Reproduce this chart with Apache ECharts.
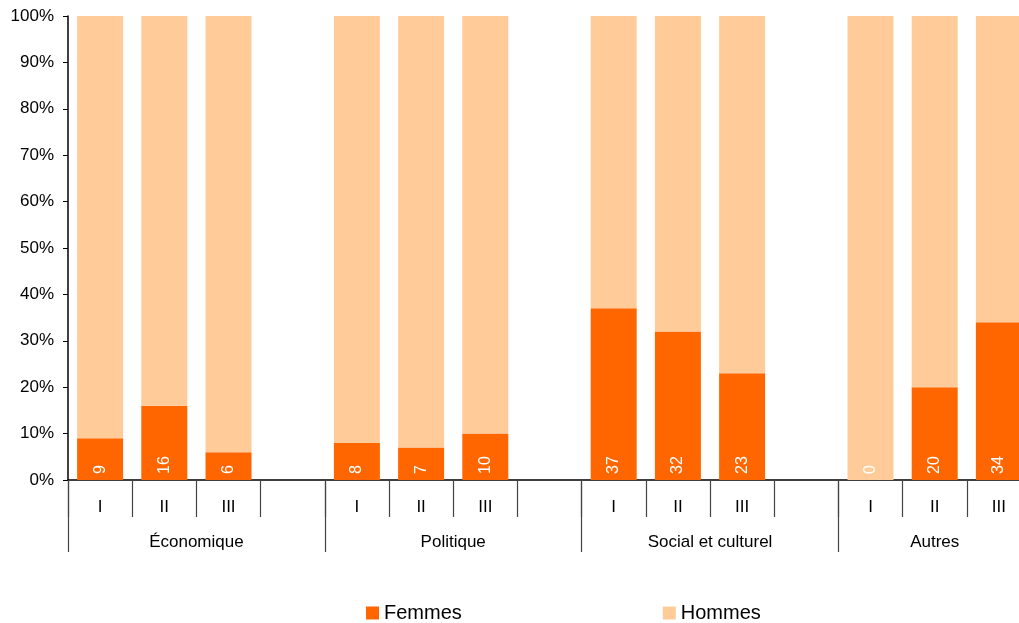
<!DOCTYPE html>
<html>
<head>
<meta charset="utf-8">
<script src="https://cdn.jsdelivr.net/npm/echarts@6/dist/echarts.min.js"></script>
<style>
  html, body { margin: 0; padding: 0; background: #fff; overflow: hidden; }
  #chart { width: 1019px; height: 623px; }
</style>
</head>
<body>
<div id="chart"></div>
<script>
// Groups and periods shown along the x axis
const groups = ['Économique', 'Politique', 'Social et culturel', 'Autres'];
const periods = ['I', 'II', 'III'];

// Share of women (%) per group and period; men make up the rest
const femmes = [9, 16, 6, 8, 7, 10, 37, 32, 23, 0, 20, 34];
const yTicks = [0, 10, 20, 30, 40, 50, 60, 70, 80, 90, 100];

// Build slot categories: three periods per group, an empty spacer between groups
const slots = [];
const femmesData = [];
const hommesData = [];
groups.forEach((g, gi) => {
  periods.forEach((p, pi) => {
    const v = femmes[gi * 3 + pi];
    slots.push(p);
    femmesData.push(v);
    hommesData.push(100 - v);
  });
  if (gi < groups.length - 1) {
    slots.push('');
    femmesData.push('-');
    hommesData.push('-');
  }
});

// Half-slot grid for the group row: boundaries every 8 steps, label at group centre
const halfSteps = slots.length * 2 + 1;
const groupRow = new Array(halfSteps).fill('');
const groupLabelIdx = {};
let start = 0;
groups.forEach((g, gi) => {
  const width = gi < groups.length - 1 ? 4 : 3;
  const centre = start * 2 + width;
  groupRow[centre] = g;
  groupLabelIdx[centre] = true;
  start += width;
});

const font = 'Liberation Sans, Arial, Helvetica, sans-serif';
const chart = echarts.init(document.getElementById('chart'), null, { renderer: 'canvas' });

chart.setOption({
  animation: false,
  grid: { left: 68, top: 16, bottom: 143, width: 963, containLabel: false, outerBoundsMode: 'none' },
  legend: {
    left: 366,
    top: 603,
    padding: 0,
    itemWidth: 13,
    itemHeight: 13,
    itemGap: 201,
    icon: 'rect',
    textStyle: { fontFamily: font, fontSize: 20, color: '#000' },
    data: ['Femmes', 'Hommes']
  },
  xAxis: [
    {
      type: 'category',
      data: slots,
      position: 'bottom',
      boundaryGap: true,
      axisLine: { show: true, lineStyle: { color: '#000', width: 1.5 } },
      axisTick: { show: true, interval: 0, length: 37, lineStyle: { color: '#444', width: 1.2 } },
      axisLabel: { interval: 0, margin: 19, fontFamily: font, fontSize: 17, color: '#000' }
    },
    {
      type: 'category',
      data: groupRow,
      position: 'bottom',
      boundaryGap: false,
      axisLine: { show: false },
      axisTick: {
        show: true,
        length: 72,
        interval: (i) => i % 8 === 0,
        lineStyle: { color: '#444', width: 1.2 }
      },
      axisLabel: {
        interval: (i) => !!groupLabelIdx[i],
        margin: 54,
        fontFamily: font,
        fontSize: 17,
        color: '#000'
      }
    }
  ],
  yAxis: {
    type: 'value',
    min: yTicks[0],
    max: yTicks[yTicks.length - 1],
    interval: 10,
    axisLine: { show: true, lineStyle: { color: '#000', width: 1.5 } },
    axisTick: { show: true, length: 5, lineStyle: { color: '#000' } },
    splitLine: { show: false },
    axisLabel: { margin: 14, formatter: '{value}%', fontFamily: font, fontSize: 17, color: '#000' }
  },
  series: [
    {
      name: 'Femmes',
      type: 'bar',
      stack: 'total',
      xAxisIndex: 0,
      barWidth: 46,
      data: femmesData,
      itemStyle: { color: '#FF6600' },
      label: {
        show: true,
        position: 'insideBottom',
        distance: 6,
        rotate: 90,
        align: 'left',
        verticalAlign: 'middle',
        color: '#fff',
        fontFamily: font,
        fontSize: 16
      }
    },
    {
      name: 'Hommes',
      type: 'bar',
      stack: 'total',
      xAxisIndex: 0,
      barWidth: 46,
      data: hommesData,
      itemStyle: { color: '#FFCC99' }
    }
  ]
});
</script>
</body>
</html>
